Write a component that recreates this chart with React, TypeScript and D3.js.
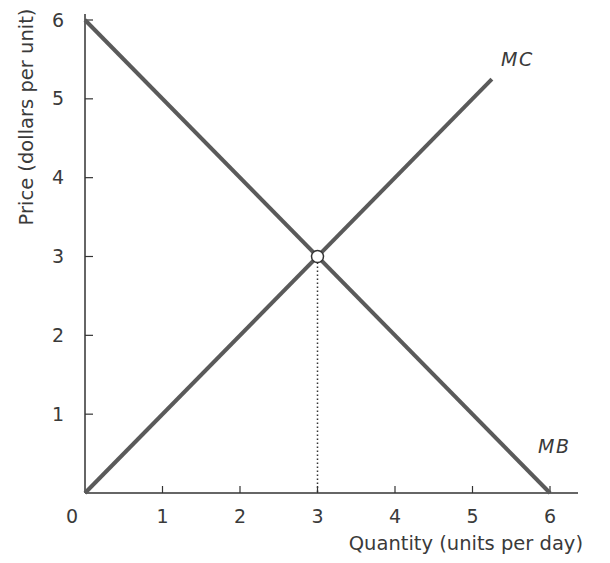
import React from "react";
import * as d3 from "d3";

const xTicks = [1, 2, 3, 4, 5, 6];
const yTicks = [1, 2, 3, 4, 5, 6];
const mbPoints: [number, number][] = [[0, 6], [6, 0]];
const mcPoints: [number, number][] = [[0, 0], [5.25, 5.25]];
const equilibrium: [number, number] = [3, 3];

const W = 610, H = 563;
const x0 = 85, y0 = 493;

export default function App() {
  const x = d3.scaleLinear().domain([0, 6]).range([x0, 550]);
  const y = d3.scaleLinear().domain([0, 6]).range([y0, 20]);
  const line = d3.line<[number, number]>().x(d => x(d[0])).y(d => y(d[1]));
  const font = "'DejaVu Sans', sans-serif";
  const txt = "#3a3a3a";
  const lineCol = "#5a5a5a";
  return (
    <svg width={W} height={H} style={{ position: "absolute", left: 0, top: 0, background: "#fff" }}>
      <line x1={x0} y1={14} x2={x0} y2={y0} stroke="#333" strokeWidth={1.5} />
      <line x1={x0} y1={y0} x2={578} y2={y0} stroke="#333" strokeWidth={1.5} />
      {yTicks.map(t => (
        <g key={"y" + t}>
          <line x1={x0} x2={x0 + 8} y1={y(t)} y2={y(t)} stroke="#333" strokeWidth={1.2} />
          <text x={58} y={y(t)} dy="0.35em" textAnchor="middle" fontFamily={font} fontSize={19} fill={txt}>{t}</text>
        </g>
      ))}
      {xTicks.map(t => (
        <g key={"x" + t}>
          <line x1={x(t)} x2={x(t)} y1={y0} y2={y0 - 7} stroke="#333" strokeWidth={1.2} />
          <text x={x(t)} y={516} dy="0.35em" textAnchor="middle" fontFamily={font} fontSize={19} fill={txt}>{t}</text>
        </g>
      ))}
      <text x={72} y={516} dy="0.35em" textAnchor="middle" fontFamily={font} fontSize={19} fill={txt}>0</text>
      <text x={583} y={543} dy="0.35em" textAnchor="end" fontFamily={font} fontSize={19.5} fill={txt}>Quantity (units per day)</text>
      <text transform={`translate(26,117) rotate(-90)`} dy="0.35em" textAnchor="middle" fontFamily={font} fontSize={19.5} fill={txt}>Price (dollars per unit)</text>
      <line x1={x(equilibrium[0])} x2={x(equilibrium[0])} y1={y(equilibrium[1]) + 6} y2={y0} stroke="#333" strokeWidth={1.5} strokeDasharray="1.5,2.5" />
      <path d={line(mbPoints) || ""} fill="none" stroke={lineCol} strokeWidth={4} />
      <path d={line(mcPoints) || ""} fill="none" stroke={lineCol} strokeWidth={4} />
      <circle cx={x(equilibrium[0])} cy={y(equilibrium[1])} r={6} fill="#fff" stroke="#333" strokeWidth={1.5} />
      <text x={501} y={59} dy="0.35em" fontFamily={font} fontStyle="italic" fontSize={19} letterSpacing={1.5} fill={txt}>MC</text>
      <text x={538} y={446} dy="0.35em" fontFamily={font} fontStyle="italic" fontSize={19} letterSpacing={1.5} fill={txt}>MB</text>
    </svg>
  );
}
